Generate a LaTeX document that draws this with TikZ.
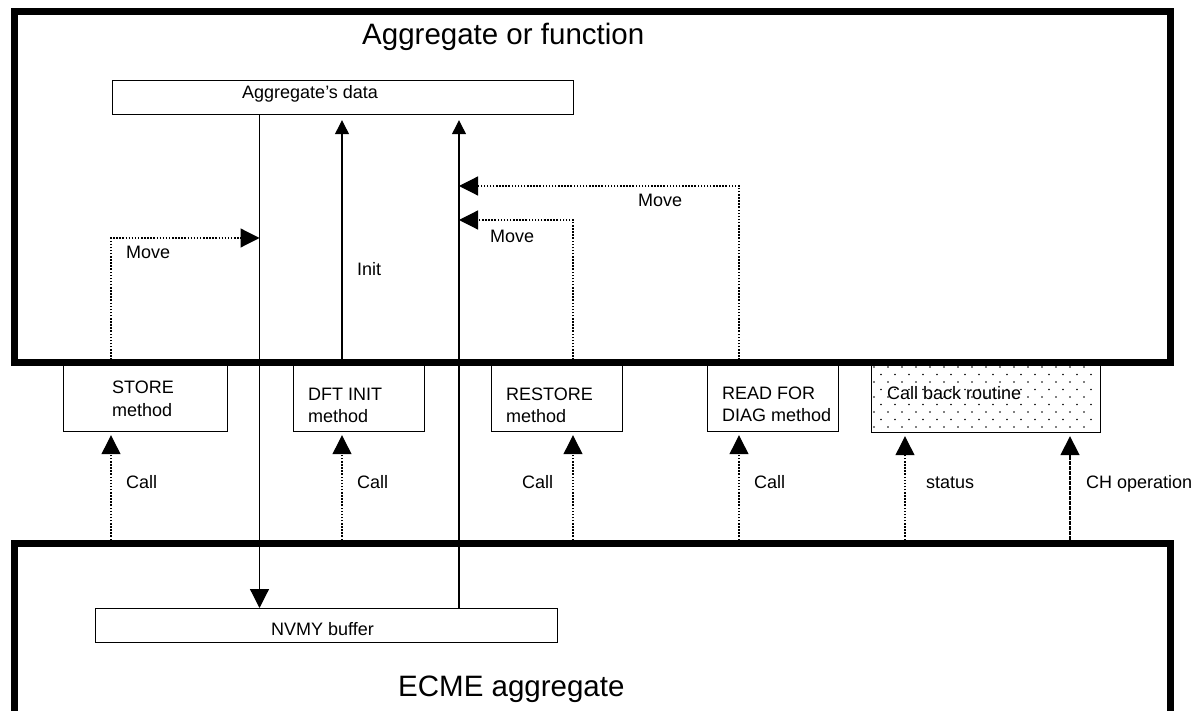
\documentclass[tikz,border=0pt]{standalone}
\usepackage{fontspec}
\setmainfont{Liberation Sans}
\usetikzlibrary{arrows.meta}
\begin{document}
\begin{tikzpicture}[x=1pt,y=-1pt,
  frame/.style={draw, line width=7pt, rectangle, inner sep=0pt, anchor=north west},
  box/.style={draw, line width=1.2pt, rectangle, inner sep=0pt, anchor=north west},
  lbl/.style={font=\fontsize{18}{22}\selectfont, anchor=base west, inner sep=0pt},
  head/.style={font=\fontsize{29.5}{34}\selectfont, anchor=base west, inner sep=0pt},
  flow/.style={line width=1.2pt},
  dotflow/.style={line width=1.2pt, dash pattern=on 1.5pt off 1.6pt},
  denseflow/.style={line width=1.7pt, dash pattern=on 1.6pt off 0.9pt},
  bighead/.style={-{Triangle[length=19pt,width=19pt]}},
  smallhead/.style={-{Triangle[length=14pt,width=14pt]}},
]
\useasboundingbox (0,0) rectangle (1203,711);
\clip (0,0) rectangle (1203,711);

% the two enclosing blocks
\node[frame, minimum width=1156pt, minimum height=351pt] (upper) at (10.5,8.5) {};
\node[frame, minimum width=1155.5pt, minimum height=173pt] (lower) at (11,540) {};
\node[head] (uppertitle) at (362,45) {Aggregate or function};
\node[head] (lowertitle) at (398,696) {ECME aggregate};

% data areas
\node[box, minimum width=461pt, minimum height=34pt] (agg) at (112,80) {};
\node[lbl] (aggtxt) at (242,99) {Aggregate's data};
\node[box, minimum width=462pt, minimum height=34pt] (nvmy) at (95,608) {};
\node[lbl] (nvmytxt) at (271,635.5) {NVMY buffer};

% methods hanging below the upper block
\node[box, minimum width=164pt, minimum height=68pt] (store) at (63,363) {};
\node[lbl] at (112,394) {STORE};
\node[lbl] at (112,417) {method};
\node[box, minimum width=131pt, minimum height=68pt] (dft) at (293,363) {};
\node[lbl] at (308,400.7) {DFT INIT};
\node[lbl] at (308,422.7) {method};
\node[box, minimum width=131pt, minimum height=68pt] (restore) at (491,363) {};
\node[lbl] at (506,400.7) {RESTORE};
\node[lbl] at (506,422.7) {method};
\node[box, minimum width=131pt, minimum height=68pt] (read) at (707,363) {};
\node[lbl] at (722,400) {READ FOR};
\node[lbl] at (722,421.7) {DIAG method};

% call-back routine with its dotted fill
\node[box, minimum width=229pt, minimum height=69pt] (cb) at (871,363) {};
\foreach \j in {0,...,8}{
  \foreach \i in {0,...,15}{
    \fill ({874+14*\i+7*mod(\j,2)}, {367+7.5*\j}) circle (0.85pt);
  }
}
\node[lbl] (cbtxt) at (887,400) {Call back routine};

% columns of the connectors
\coordinate (cA) at (259.5,0);
\coordinate (cInit) at (342,0);
\coordinate (cB) at (459,0);
\coordinate (cSt) at (111,0);
\coordinate (cRe) at (573,0);
\coordinate (cRd) at (739,0);
\coordinate (cSs) at (905,0);
\coordinate (cCh) at (1070,0);
\coordinate (mv1) at (259.5,238);
\coordinate (mv2) at (459,220);
\coordinate (mv3) at (459,186);

% data transfers
\draw[flow, bighead] (agg.south -| cA) -- (nvmy.north -| cA);
\draw[flow, smallhead, shorten >=5pt] (dft.north -| cInit) -- (agg.south -| cInit);
\draw[flow, smallhead, shorten >=5pt] (nvmy.north -| cB) -- (agg.south -| cB);
\node[lbl] (inittxt) at (357,276) {Init};

% moves
\draw[dotflow, bighead] (store.north -| cSt) |- (mv1);
\draw[dotflow, bighead] (restore.north -| cRe) |- (mv2);
\draw[dotflow, bighead] (read.north -| cRd) |- (mv3);
\node[lbl] (mvtxt1) at (126,259) {Move};
\node[lbl] (mvtxt2) at (490,243) {Move};
\node[lbl] (mvtxt3) at (638,207) {Move};

% calls from the ECME aggregate
\draw[dotflow, bighead, shorten >=3pt] (lower.north -| cSt) -- (store.south -| cSt);
\draw[dotflow, bighead, shorten >=3pt] (lower.north -| cInit) -- (dft.south -| cInit);
\draw[dotflow, bighead, shorten >=3pt] (lower.north -| cRe) -- (restore.south -| cRe);
\draw[dotflow, bighead, shorten >=3pt] (lower.north -| cRd) -- (read.south -| cRd);
\draw[dotflow, bighead, shorten >=3pt] (lower.north -| cSs) -- (cb.south -| cSs);
\draw[denseflow, bighead, shorten >=3pt] (lower.north -| cCh) -- (cb.south -| cCh);
\node[lbl] (call1) at (126,488) {Call};
\node[lbl] (call2) at (357,488) {Call};
\node[lbl] (call3) at (522,488) {Call};
\node[lbl] (call4) at (754,488) {Call};
\node[lbl] (stattxt) at (926,488) {status};
\node[lbl] (chtxt) at (1086,488) {CH operation};
\end{tikzpicture}
\end{document}
